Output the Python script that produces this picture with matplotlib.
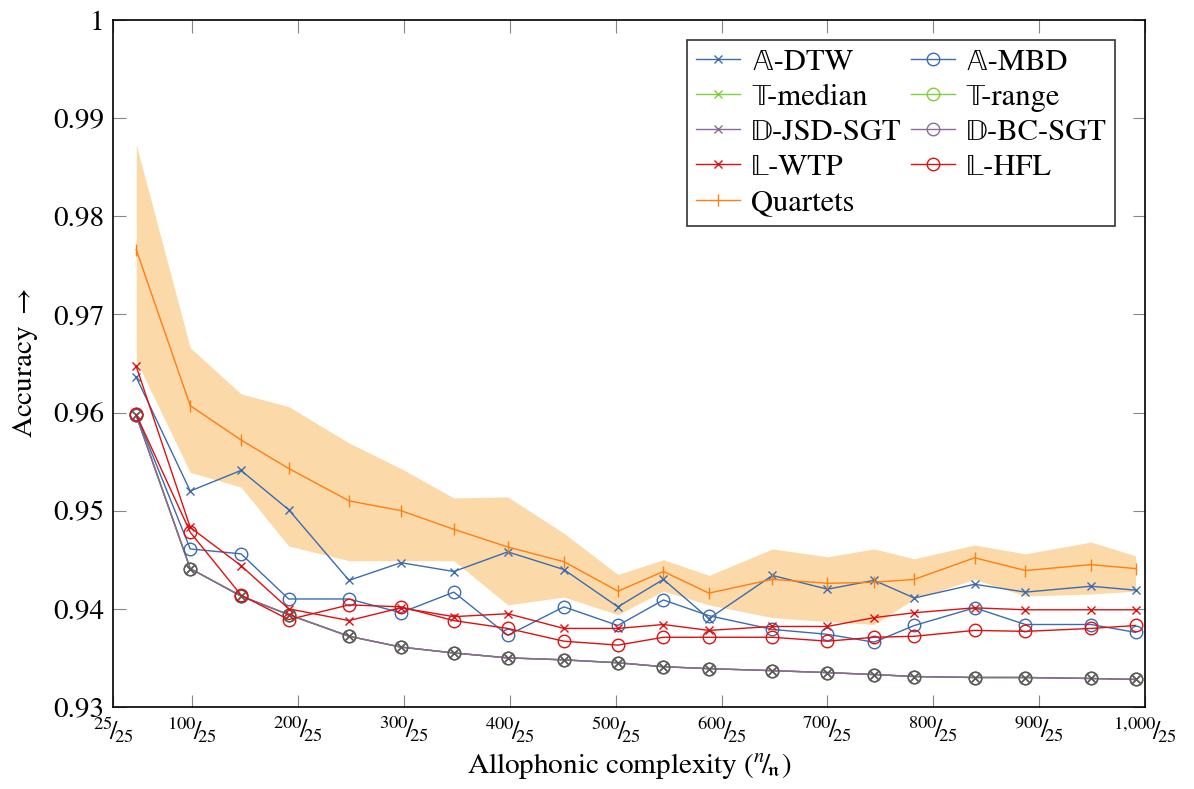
import matplotlib
matplotlib.use('Agg')
import matplotlib.pyplot as plt

plt.rcParams['font.family'] = ['STIXGeneral', 'DejaVu Sans']
plt.rcParams['mathtext.fontset'] = 'stix'

# allophonic complexity (x) and accuracy series
x = [47, 98, 146, 191, 248, 297, 347, 398, 451, 502,
     545, 588, 648, 700, 744, 782, 839, 887, 949, 991]

a_dtw = [0.9636, 0.9520, 0.9541, 0.9501, 0.9429, 0.9447, 0.9438, 0.9458, 0.9440, 0.9402,
         0.9430, 0.9390, 0.9434, 0.9420, 0.9429, 0.9411, 0.9425, 0.9417, 0.9423, 0.9419]
a_mbd = [0.9598, 0.9461, 0.9456, 0.9410, 0.9410, 0.9396, 0.9417, 0.9373, 0.9402, 0.9383,
         0.9409, 0.9393, 0.9379, 0.9374, 0.9366, 0.9383, 0.9401, 0.9384, 0.9384, 0.9376]
d_sgt = [0.9597, 0.9441, 0.9413, 0.9394, 0.9372, 0.9361, 0.9355, 0.9350, 0.9348, 0.9345,
         0.9341, 0.9339, 0.9337, 0.9335, 0.9333, 0.9331, 0.9330, 0.9330, 0.9329, 0.9328]
l_wtp = [0.9647, 0.9483, 0.9444, 0.9400, 0.9388, 0.9401, 0.9392, 0.9395, 0.9380, 0.9380,
         0.9384, 0.9378, 0.9382, 0.9382, 0.9391, 0.9396, 0.9401, 0.9399, 0.9399, 0.9399]
l_hfl = [0.9598, 0.9478, 0.9414, 0.9389, 0.9404, 0.9402, 0.9388, 0.9380, 0.9367, 0.9363,
         0.9371, 0.9371, 0.9371, 0.9367, 0.9371, 0.9372, 0.9378, 0.9377, 0.9380, 0.9383]
quartets = [0.9766, 0.9607, 0.9572, 0.9543, 0.9510, 0.9500, 0.9481, 0.9463, 0.9448, 0.9418,
            0.9438, 0.9416, 0.9430, 0.9426, 0.9427, 0.9430, 0.9452, 0.9439, 0.9445, 0.9441]
q_upper = [0.9873, 0.9666, 0.9619, 0.9606, 0.9569, 0.9543, 0.9513, 0.9514, 0.9477, 0.9435,
           0.9450, 0.9434, 0.9461, 0.9453, 0.9461, 0.9451, 0.9465, 0.9456, 0.9468, 0.9454]
q_lower = [0.9653, 0.9539, 0.9524, 0.9464, 0.9449, 0.9449, 0.9449, 0.9404, 0.9412, 0.9394,
           0.9418, 0.9404, 0.9391, 0.9387, 0.9384, 0.9410, 0.9430, 0.9413, 0.9415, 0.9418]

xticks = [25, 100, 200, 300, 400, 500, 600, 700, 800, 900, 1000]
xticklabels = [r'$^{%s}\!/\!_{25}$' % f'{t:,}'.replace(',', '{,}') for t in xticks]
yticks = [0.93, 0.94, 0.95, 0.96, 0.97, 0.98, 0.99, 1.0]
yticklabels = ['0.93', '0.94', '0.95', '0.96', '0.97', '0.98', '0.99', '1']

blue = '#3b6cb0'
green = '#7ed03c'
purple = '#8a6a9a'
red = '#dd1111'
orange = '#ff7f10'

fig = plt.figure(figsize=(11.94, 7.89), dpi=100)
ax = fig.add_axes([0.0946, 0.104, 0.8644, 0.8707])

ax.fill_between(x, q_lower, q_upper, color='#fcd9a8', linewidth=0, zorder=1)

lw = 1.0
h = {}
h['adtw'], = ax.plot(x, a_dtw, color=blue, marker='x', ms=6, mew=1.0, lw=lw, label='𝔸-DTW', zorder=3)
h['ambd'], = ax.plot(x, a_mbd, color=blue, marker='o', ms=9, mfc='none', mew=1.0, lw=lw, label='𝔸-MBD', zorder=3)
h['tmed'], = ax.plot(x, d_sgt, color=green, marker='x', ms=6, mew=1.0, lw=lw, label='𝕋-median', zorder=2)
h['trng'], = ax.plot(x, d_sgt, color=green, marker='o', ms=9, mfc='none', mew=1.0, lw=lw, label='𝕋-range', zorder=2)
h['djsd'], = ax.plot(x, d_sgt, color=purple, marker='x', ms=6, mew=1.0, lw=lw, label='𝔻-JSD-SGT', zorder=2.1)
h['dbc'], = ax.plot(x, d_sgt, color=purple, marker='o', ms=9, mfc='none', mew=1.0, lw=lw, label='𝔻-BC-SGT', zorder=2.1)
ax.plot(x, d_sgt, color='#5a5a5a', marker='x', ms=6, mew=1.0, lw=0, zorder=2.2)
ax.plot(x, d_sgt, color='#5a5a5a', marker='o', ms=9, mfc='none', mew=1.0, lw=0, zorder=2.2)
h['lwtp'], = ax.plot(x, l_wtp, color=red, marker='x', ms=6, mew=1.0, lw=lw, label='𝕃-WTP', zorder=3)
h['lhfl'], = ax.plot(x, l_hfl, color=red, marker='o', ms=9, mfc='none', mew=1.0, lw=lw, label='𝕃-HFL', zorder=3)
h['quart'], = ax.plot(x, quartets, color=orange, marker='|', ms=9, mew=1.0, lw=lw, label='Quartets', zorder=3)

ax.set_xlim(25, 1000)
ax.set_ylim(0.93, 1.0)
ax.set_xticks(xticks)
ax.set_xticklabels(xticklabels, fontsize=19)
ax.set_yticks(yticks)
ax.set_yticklabels(yticklabels, fontsize=21)
ax.tick_params(direction='in', length=9, width=0.8, color='#888888',
               top=True, right=True, pad=6)
for s in ax.spines.values():
    s.set_linewidth(1.2)

ax.set_xlabel(r'Allophonic complexity ($^{n}\!/\!_{\mathfrak{n}}$)', fontsize=21, labelpad=4)
ax.set_ylabel(r'Accuracy $\rightarrow$', fontsize=21, labelpad=10)

order = ['adtw', 'tmed', 'djsd', 'lwtp', 'quart', 'ambd', 'trng', 'dbc', 'lhfl']
handles = [h[k] for k in order]
leg = ax.legend(handles, [hd.get_label() for hd in handles], ncol=2, loc='upper right',
                bbox_to_anchor=(0.971, 0.971), borderaxespad=0, fontsize=22,
                frameon=True, fancybox=False, edgecolor='#333333', framealpha=1,
                handlelength=1.45, handletextpad=0.35, columnspacing=0.3,
                labelspacing=0.22, borderpad=0.28)
leg.get_frame().set_linewidth(1.2)

fig.savefig('out.png', dpi=100)
